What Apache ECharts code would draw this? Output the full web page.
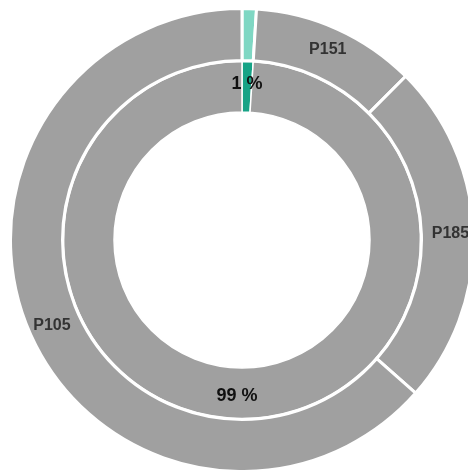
<!DOCTYPE html>
<html>
<head>
<meta charset="utf-8">
<script src="https://cdn.jsdelivr.net/npm/echarts@6/dist/echarts.min.js"></script>
<style>
  html, body { margin: 0; padding: 0; background: #fff; }
  #chart { width: 468px; height: 470px; }
</style>
</head>
<body>
<div id="chart"></div>
<script>
// Inner ring: overall share
const innerNames = ['A', 'B'];
const innerValues = [1, 99];
const innerLabels = ['1 %', '99 %'];

// Outer ring: breakdown by product
const outerNames = ['', 'P151', 'P185', 'P105'];
const outerValues = [1, 11.5, 24, 63.5];

const GREY = '#a0a0a0';
const innerColors = ['#17a386', GREY];
const outerColors = ['#7fd7c3', GREY, GREY, GREY];

const chart = echarts.init(document.getElementById('chart'), null, { renderer: 'canvas' });

chart.setOption({
  animation: false,
  series: [
    {
      type: 'pie',
      center: [242, 240],
      radius: [128, 178.5],
      startAngle: 90,
      clockwise: true,
      silent: true,
      itemStyle: { borderColor: '#fff', borderWidth: 1.5 },
      label: {
        show: true,
        position: 'inside',
        fontFamily: 'Liberation Sans, Arial, sans-serif',
        fontWeight: 'bold',
        fontSize: 18,
        color: '#111',
        formatter: p => innerLabels[p.dataIndex]
      },
      labelLine: { show: false },
      data: innerNames.map((n, i) => ({
        name: n,
        value: innerValues[i],
        itemStyle: { color: innerColors[i] }
      }))
    },
    {
      type: 'pie',
      center: [242, 240],
      radius: [179.5, 231.5],
      startAngle: 90,
      clockwise: true,
      silent: true,
      itemStyle: { borderColor: '#fff', borderWidth: 3 },
      label: {
        show: true,
        position: 'inside',
        fontFamily: 'Liberation Sans, Arial, sans-serif',
        fontWeight: 'bold',
        fontSize: 16,
        color: '#333',
        formatter: p => outerNames[p.dataIndex]
      },
      labelLine: { show: false },
      data: outerNames.map((n, i) => ({
        name: n || ' ',
        value: outerValues[i],
        itemStyle: { color: outerColors[i] }
      }))
    }
  ]
});
</script>
</body>
</html>
